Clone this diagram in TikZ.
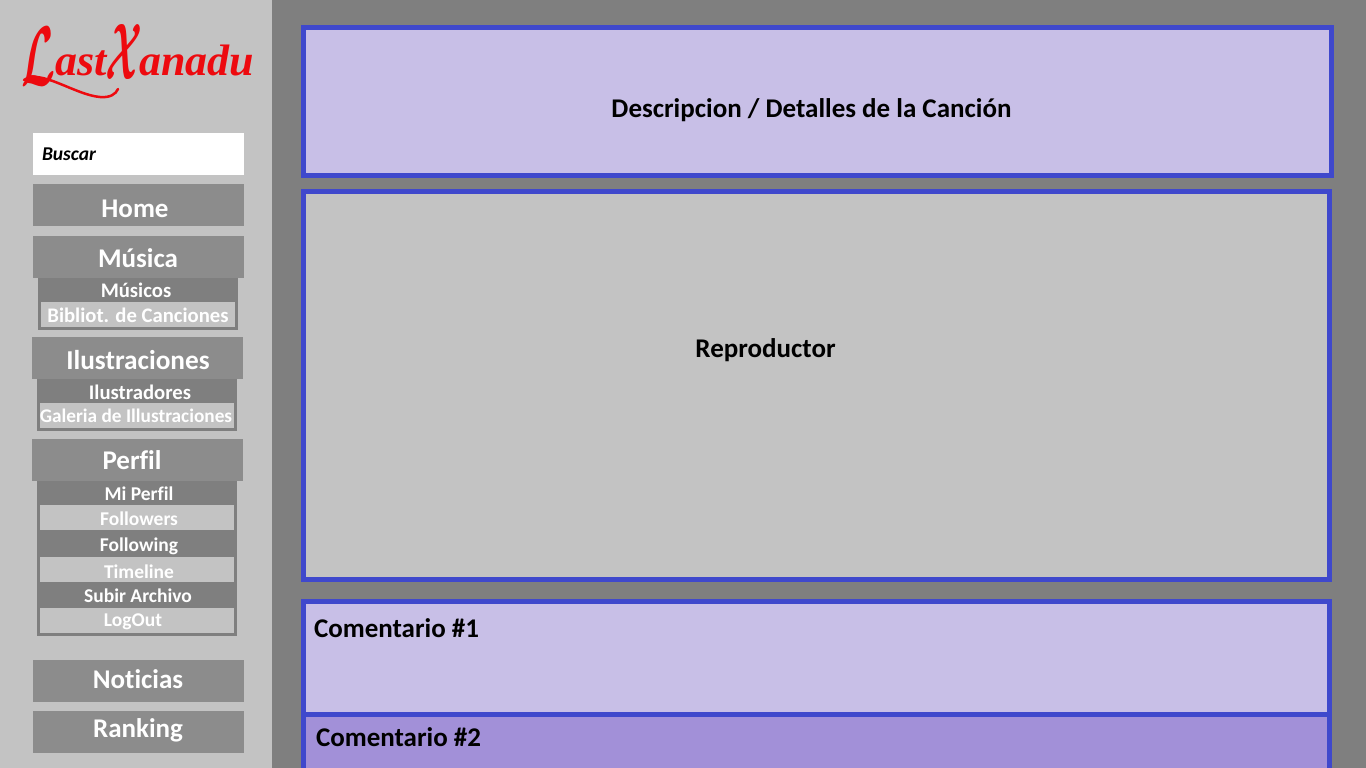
\documentclass[tikz,border=0pt]{standalone}
\usepackage{graphicx}
\usepackage{fontspec}
\newfontfamily\calibri[Ligatures=NoCommon]{Carlito}
\newfontfamily\logofuente{Liberation Serif}
\usetikzlibrary{positioning}
\definecolor{fondo}{HTML}{7F7F7F}
\definecolor{barra}{HTML}{C3C3C3}
\definecolor{boton}{HTML}{8C8C8C}
\definecolor{borde}{HTML}{3F48CC}
\definecolor{lila}{HTML}{C8BFE7}
\definecolor{lilaosc}{HTML}{A290D8}
\definecolor{logorojo}{HTML}{ED0A0F}
\begin{document}
\begin{tikzpicture}[x=1pt, y=-1pt]
  \tikzset{every node/.style = {outer sep=0pt, inner sep=0pt},
           BotonStyle/.style = {anchor=north west, fill=boton, minimum width=211pt, minimum height=42pt},
           PanelStyle/.style = {anchor=north west, fill=fondo, minimum width=200pt},
           FilaStyle/.style = {anchor=north west, fill=barra, minimum width=194pt, minimum height=25pt},
           CajaStyle/.style = {anchor=north west, draw=borde, line width=5pt},
           GrandeStyle/.style = {text=white, font=\calibri\bfseries\fontsize{#1}{#1}\selectfont},
           SubStyle/.style = {text=white, font=\calibri\bfseries\fontsize{#1}{20}\selectfont},
           SubStyle/.default = 19.5,
           NegroStyle/.style = {text=black, font=\calibri\bfseries\fontsize{27}{27}\selectfont}}
  \useasboundingbox (0,0) rectangle (1366,768);
  \clip (0,0) rectangle (1366,768);
  \fill[fondo] (0,0) rectangle (1366,768);
  \fill[barra] (0,0) rectangle (272,768);
  %%% LOGO %%%
  \node[anchor=base west, text=logorojo, font=\logofuente\bfseries\itshape\fontsize{44}{44}\selectfont] (logo) at (21,75) {\raisebox{-10pt}{\resizebox{34pt}{58pt}{\boldmath$\mathcal{L}$}}ast\hspace{-1pt}\raisebox{-5pt}{\resizebox{37pt}{55pt}{\boldmath$\mathcal{X}$}}\hspace{-3pt}anadu};
  \coordinate (colaA) at (24,80);
  \coordinate (colaB) at (118,89);
  \draw[logorojo, line width=2.5pt, line cap=round] (colaA) .. controls (40,68) and (75,95) .. (100,97) .. controls (110,98) and (116,94) .. (colaB);
  %%% MENU %%%
  \node[BotonStyle, fill=white] (buscar) at (33,133) {};
  \node[anchor=west, text=black, font=\calibri\bfseries\itshape\fontsize{19.5}{19.5}\selectfont] (buscarT) at (42,154.5) {Buscar};
  \node[BotonStyle, below=9pt of buscar.south west, anchor=north west] (home) {};
  \node[GrandeStyle=27] (homeT) at (135,209) {Home};
  % musica
  \node[BotonStyle] (musica) at (33,236) {};
  \node[PanelStyle, minimum height=52pt, below=0pt of musica.south west, xshift=5pt, anchor=north west] (musicaP) {};
  \node[FilaStyle] (biblio) at (41,302) {};
  \node[GrandeStyle=27] (musicaT) at (138,258) {Música};
  \node[SubStyle=20.7] (musicos) at (136,290.5) {Músicos};
  \node[SubStyle=20.7] (biblioT) at (138,315.5) {Bibliot. de Canciones};
  % ilustraciones
  \node[BotonStyle] (ilus) at (32,337) {};
  \node[PanelStyle, minimum height=52pt, below=0pt of ilus.south west, xshift=5pt, anchor=north west] (ilusP) {};
  \node[FilaStyle] (galeria) at (40,403) {};
  \node[GrandeStyle=27.3] (ilusT) at (138,360) {Ilustraciones};
  \node[SubStyle=20.7] (ilustradores) at (140,392.5) {Ilustradores};
  \node[SubStyle=19.3] (galeriaT) at (136,416) {Galeria de Illustraciones};
  % perfil
  \node[BotonStyle] (perfil) at (32,439) {};
  \node[PanelStyle, minimum height=155pt, below=0pt of perfil.south west, xshift=5pt, anchor=north west] (perfilP) {};
  \node[FilaStyle] (followers) at (40,505) {};
  \node[FilaStyle] (timeline) at (40,557) {};
  \node[FilaStyle] (logout) at (40,608) {};
  \node[GrandeStyle=27] (perfilT) at (132,460) {Perfil};
  \node[SubStyle] (miperfil) at (139,494) {Mi Perfil};
  \node[SubStyle] (followersT) at (139,519) {Followers};
  \node[SubStyle] (following) at (139,546) {Following};
  \node[SubStyle] (timelineT) at (139,571.5) {Timeline};
  \node[SubStyle] (subir) at (138,596) {Subir Archivo};
  \node[SubStyle] (logoutT) at (133,622) {LogOut};
  % noticias y ranking
  \node[BotonStyle] (noticias) at (33,660) {};
  \node[BotonStyle, below=9pt of noticias.south west, anchor=north west] (ranking) {};
  \node[GrandeStyle=27] (noticiasT) at (138,679) {Noticias};
  \node[GrandeStyle=27] (rankingT) at (138,730) {Ranking};
  %%% CONTENIDO %%%
  \node[CajaStyle, fill=lila, minimum width=1028pt, minimum height=148pt] (detalles) at (303.5,27.5) {};
  \node[NegroStyle] (detallesT) at (811.5,110) {Descripcion / Detalles de la Canción};
  \node[CajaStyle, fill=barra, minimum width=1026pt, minimum height=388pt] (repro) at (303.5,191.5) {};
  \node[NegroStyle] (reproT) at (765.5,350) {Reproductor};
  \node[CajaStyle, fill=lila, minimum width=1026pt, minimum height=113pt] (com1) at (303.5,601.5) {};
  \node[CajaStyle, fill=lilaosc, minimum width=1026pt, minimum height=100pt] (com2) at (303.5,714.5) {};
  \node[NegroStyle, anchor=west] (com1T) at (314,628) {Comentario \#1};
  \node[NegroStyle, anchor=west] (com2T) at (316,737) {Comentario \#2};
\end{tikzpicture}
\end{document}
